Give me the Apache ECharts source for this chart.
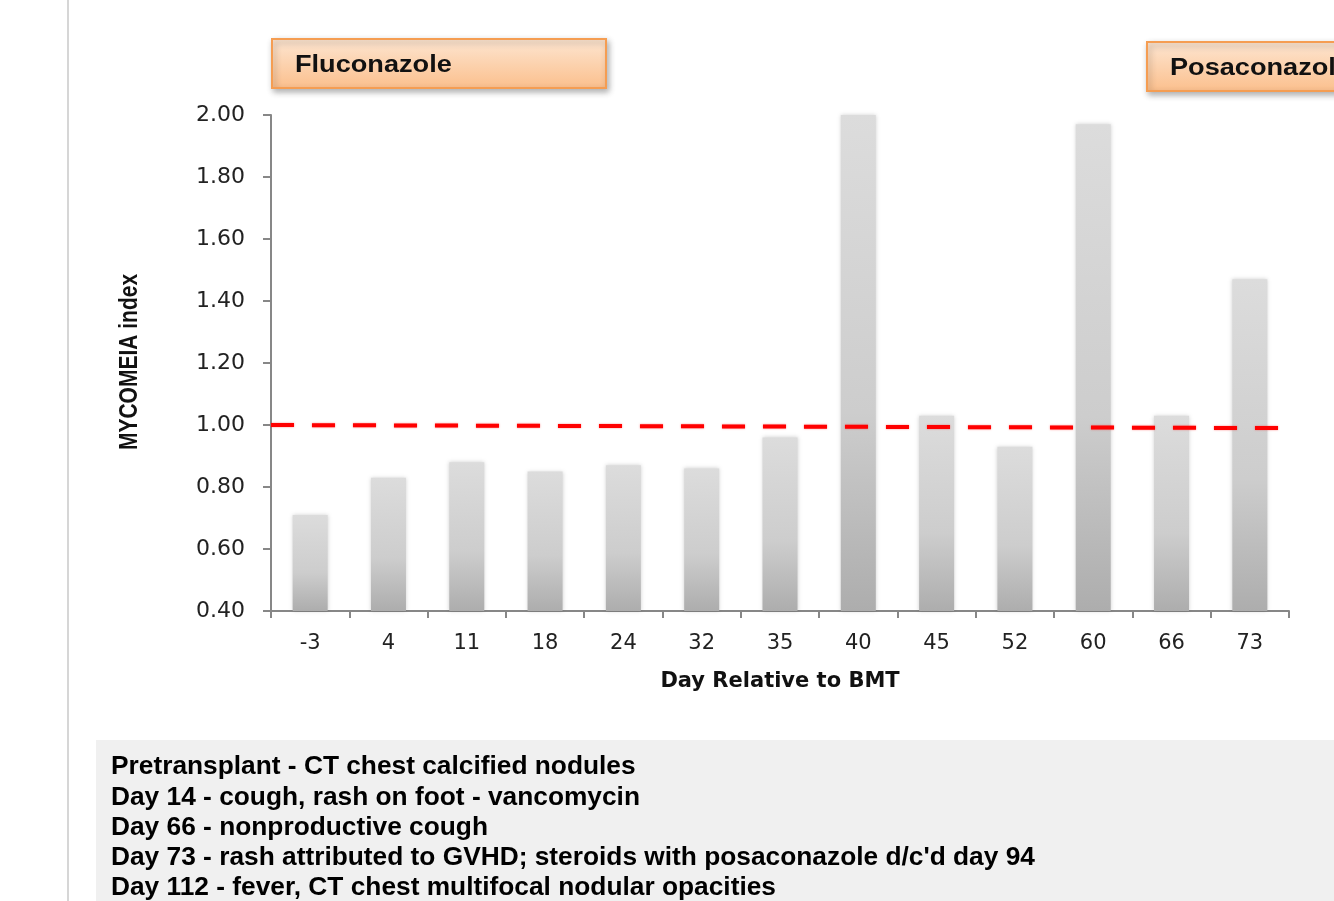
<!DOCTYPE html>
<html>
<head>
<meta charset="utf-8">
<script src="https://cdn.jsdelivr.net/npm/echarts@6/dist/echarts.min.js"></script>
<style>
  html, body { margin: 0; padding: 0; background: #fff; }
  #chart { width: 1334px; height: 901px; }
</style>
</head>
<body>
<div id="chart"></div>
<script>
// Days relative to BMT and the MYCOMEIA index measured on each day
const days = ['-3', '4', '11', '18', '24', '32', '35', '40', '45', '52', '60', '66', '73'];
const mycomeiaIndex = [0.71, 0.83, 0.88, 0.85, 0.87, 0.86, 0.96, 2.00, 1.03, 0.93, 1.97, 1.03, 1.47];

// Positivity cut-off drawn as a dashed line across the plot
const cutoffLine = [[0, 1.00], [12.9, 0.99]];

// Clinical events listed under the chart
const clinicalNotes = [
  'Pretransplant - CT chest calcified nodules',
  'Day 14 - cough, rash on foot - vancomycin',
  'Day 66 - nonproductive cough',
  "Day 73 - rash attributed to GVHD; steroids with posaconazole d/c'd day 94",
  'Day 112 - fever, CT chest multifocal nodular opacities'
];

// Antifungal therapy periods
const therapyLabels = ['Fluconazole', 'Posaconazole'];

const chart = echarts.init(document.getElementById('chart'));

const axisGray = '#878787';
const tickFont = 'DejaVu Sans';

function therapyBox(x, y, w, label) {
  return {
    type: 'group',
    x: x, y: y,
    children: [
      {
        type: 'rect',
        shape: { x: 0, y: 0, width: w, height: 49 },
        style: {
          fill: new echarts.graphic.LinearGradient(0, 0, 0, 1, [
            { offset: 0, color: '#fde6d2' },
            { offset: 1, color: '#fbbf8c' }
          ]),
          stroke: '#f59d52',
          lineWidth: 2,
          shadowBlur: 6,
          shadowOffsetX: 2,
          shadowOffsetY: 3,
          shadowColor: 'rgba(0,0,0,0.3)'
        }
      },
      {
        type: 'text',
        x: 23, y: 27,
        scaleX: 1.18,
        style: {
          text: label,
          font: 'bold 23px "Liberation Sans", Arial, sans-serif',
          fill: '#111',
          verticalAlign: 'middle'
        }
      }
    ]
  };
}

const noteTexts = clinicalNotes.map((t, i) => ({
  type: 'text',
  x: 111,
  y: 767 + i * 30.3,
  style: {
    text: t,
    font: 'bold 26.3px "Liberation Sans", Arial, sans-serif',
    fill: '#000',
    verticalAlign: 'middle'
  }
}));

chart.setOption({
  animation: false,
  backgroundColor: '#ffffff',
  grid: { left: 271, right: 45, top: 115, bottom: 290 },
  xAxis: [
    {
      type: 'category',
      data: days,
      boundaryGap: true,
      axisLine: { lineStyle: { color: axisGray, width: 2 } },
      axisTick: { show: true, length: 7, lineStyle: { color: axisGray, width: 2 } },
      axisLabel: { color: '#222', fontFamily: tickFont, fontSize: 21, margin: 22 },
      name: 'Day Relative to BMT',
      nameLocation: 'middle',
      nameGap: 60,
      nameTextStyle: { color: '#111', fontFamily: tickFont, fontWeight: 'bold', fontSize: 21 }
    },
    {
      type: 'value',
      min: 0,
      max: 13,
      show: false
    }
  ],
  yAxis: {
    type: 'value',
    min: 0.4,
    max: 2.0,
    interval: 0.2,
    splitLine: { show: false },
    axisLine: { show: true, lineStyle: { color: axisGray, width: 2 } },
    axisTick: { show: true, length: 8, lineStyle: { color: axisGray, width: 2 } },
    axisLabel: {
      color: '#222',
      fontFamily: tickFont,
      fontSize: 22,
      margin: 26,
      formatter: v => v.toFixed(2)
    }
  },
  series: [
    {
      type: 'bar',
      data: mycomeiaIndex,
      barWidth: 35,
      itemStyle: {
        color: new echarts.graphic.LinearGradient(0, 0, 0, 1, [
          { offset: 0, color: '#dcdcdc' },
          { offset: 0.6, color: '#cdcdcd' },
          { offset: 1, color: '#adadad' }
        ]),
        shadowBlur: 4,
        shadowColor: 'rgba(0,0,0,0.18)'
      },
      z: 2
    },
    {
      type: 'line',
      xAxisIndex: 1,
      data: cutoffLine,
      symbol: 'none',
      lineStyle: {
        color: '#ff0000',
        width: 4,
        type: [23, 18],
        shadowBlur: 2,
        shadowColor: 'rgba(255,0,0,0.5)'
      },
      z: 3
    }
  ],
  graphic: [
    // left page border
    {
      type: 'rect',
      shape: { x: 67, y: 0, width: 2, height: 901 },
      style: { fill: '#d6d6d6' }
    },
    therapyBox(272, 39, 334, therapyLabels[0]),
    therapyBox(1147, 42, 260, therapyLabels[1]),
    // y axis title
    {
      type: 'text',
      x: 130,
      y: 362,
      rotation: Math.PI / 2,
      scaleY: 1.25,
      style: {
        text: 'MYCOMEIA index',
        font: 'bold 21px "Liberation Sans", Arial, sans-serif',
        fill: '#111',
        align: 'center',
        verticalAlign: 'middle'
      }
    },
    // notes panel
    {
      type: 'rect',
      shape: { x: 96, y: 740, width: 1238, height: 161 },
      style: { fill: '#f0f0f0' }
    },
    ...noteTexts
  ]
});
</script>
</body>
</html>
